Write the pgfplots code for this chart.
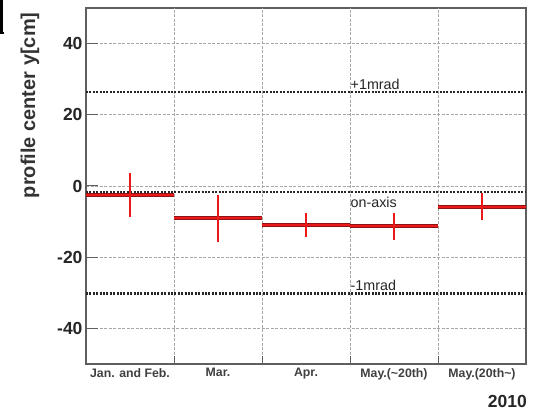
\documentclass[border=0pt]{standalone}
\usepackage{pgfplots}
\pgfplotsset{compat=1.18}
\usepackage{pgfplotstable}
\usepackage{fontspec}
\setmainfont{Liberation Sans}
\definecolor{binred}{RGB}{235,25,25}
\definecolor{bindark}{RGB}{140,20,20}
\definecolor{framegray}{RGB}{95,95,95}

% bin centre, mean profile centre and its spread
\pgfplotstableread{
x   y      ey
0.5 -2.5   6.2
1.5 -9.0   6.6
2.5 -10.9  3.3
3.5 -11.3  3.8
4.5 -5.8   3.8
}\bins

\begin{document}
\begin{tikzpicture}[x=1pt,y=1pt]
\useasboundingbox (0,0) rectangle (540,411);
\fill[white] (0,0) rectangle (540,411);
\draw[black, line width=2.5pt] (1.5,411) -- (1.5,378) -- (4,378);
\begin{axis}[
  at={(86pt,47pt)}, anchor=south west,
  scale only axis, width=440pt, height=356pt,
  xmin=0, xmax=5, ymin=-50, ymax=50,
  axis line style={framegray, line width=1.4pt},
  xtick={0.5,1.5,2.5,3.5,4.5},
  xticklabels={Jan. and Feb., Mar., Apr., May.(\textasciitilde20th), May.(20th\textasciitilde)},
  xticklabel style={font=\bfseries\fontsize{12.3}{12}\selectfont, text=black!75, yshift=-1pt},
  xtick style={draw=none},
  extra x ticks={1,2,3,4},
  extra x tick labels={},
  extra x tick style={xmajorgrids=true, xtick style={draw=framegray, line width=1pt}, major tick length=8pt},
  ytick={-40,-20,0,20,40},
  yticklabels={-40,-20,0,20,40},
  yticklabel style={font=\bfseries\fontsize{17.5}{17}\selectfont, text=black!85},
  ytick pos=left, xtick pos=bottom,
  tick align=inside, major tick length=12pt,
  ytick style={framegray, line width=1pt},
  ymajorgrids=true,
  grid style={gray!70, line width=0.7pt, dash pattern=on 3pt off 1.5pt},
  clip=false,
]
% reference levels
\addplot[black!85, line width=2.1pt, dash pattern=on 2pt off 1.4pt] coordinates {(0,26.5) (5,26.5)};
\addplot[black!85, line width=2.1pt, dash pattern=on 2pt off 1.4pt] coordinates {(0,-1.8) (5,-1.8)};
\addplot[black!85, line width=2.1pt, dash pattern=on 2pt off 1.4pt] coordinates {(0,-30.2) (5,-30.2)};
\node[anchor=south west, inner sep=0.5pt, font=\fontsize{14.3}{14}\selectfont, text=black!85] at (axis cs:3,27.0) {+1mrad};
\node[anchor=north west, inner sep=0.5pt, font=\fontsize{14.3}{14}\selectfont, text=black!85] at (axis cs:3,-2.8) {on-axis};
\node[anchor=south west, inner sep=0.5pt, font=\fontsize{14.3}{14}\selectfont, text=black!85] at (axis cs:3,-29.6) {-1mrad};
% bin widths
\addplot[draw=none, mark=none, error bars/.cd, x dir=both, x fixed=0.5,
  error mark=none, error bar style={draw=bindark, line width=4pt}]
  table[x=x, y=y] {\bins};
\addplot[draw=none, mark=none, error bars/.cd, x dir=both, x fixed=0.5,
  error mark=none, error bar style={draw=binred, line width=1.8pt}]
  table[x=x, y=y] {\bins};
% spreads
\addplot[draw=none, mark=none, error bars/.cd, y dir=both, y explicit,
  error mark=none, error bar style={draw=binred, line width=2pt}]
  table[x=x, y=y, y error=ey] {\bins};
\end{axis}
\node[rotate=90, anchor=east, font=\bfseries\fontsize{20}{20}\selectfont, text=black!80] at (30,402) {profile center y[cm]};
\node[anchor=south east, inner sep=0pt, font=\bfseries\fontsize{17.5}{17}\selectfont, text=black!85] at (527,3) {2010};
\end{tikzpicture}
\end{document}
